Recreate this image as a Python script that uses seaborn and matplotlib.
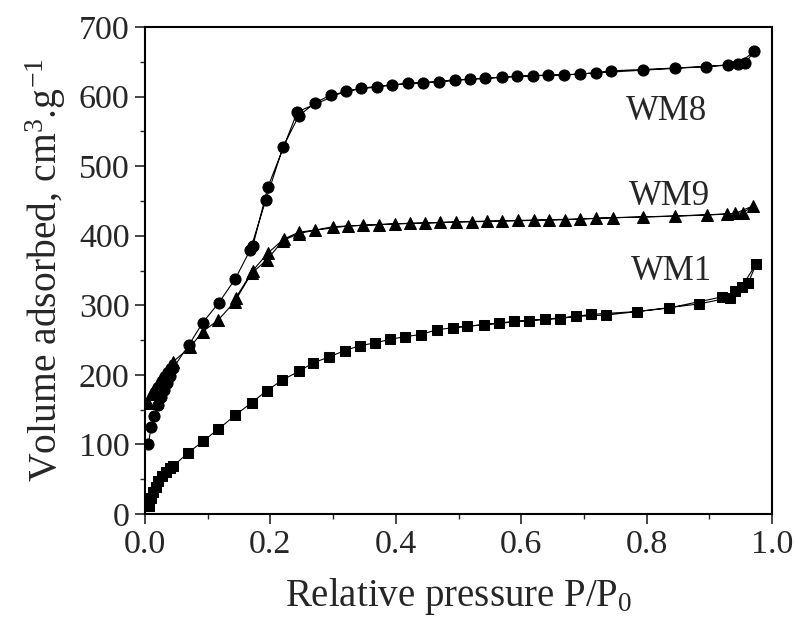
import numpy as np
import pandas as pd
import matplotlib
matplotlib.use("Agg")
import matplotlib.pyplot as plt
import seaborn as sns

# ---- data ----
wm8_ads_x = [0.005, 0.010, 0.015, 0.020, 0.025, 0.030, 0.035, 0.040, 0.045, 0.070, 0.092, 0.118, 0.144, 0.168,
             0.193, 0.220, 0.245, 0.271, 0.296, 0.344, 0.394, 0.444, 0.494, 0.543, 0.594, 0.643, 0.693, 0.744,
             0.845, 0.930, 0.957, 0.972]
wm8_ads_y = [100, 125, 141, 157, 168, 178, 188, 198, 210, 243, 275, 304, 338, 380,
             452, 527, 572, 591, 602, 612, 617, 620, 624, 626, 629, 631, 632, 637,
             641, 645, 648, 665]
wm8_des_x = [0.946, 0.895, 0.795, 0.720, 0.668, 0.619, 0.569, 0.518, 0.469, 0.420, 0.370, 0.320, 0.243,
             0.196, 0.172]
wm8_des_y = [647, 643, 638, 634, 631, 630, 628, 625, 621, 619, 614, 608, 578, 470, 385]

wm9_ads_x = [0.005, 0.010, 0.015, 0.020, 0.025, 0.030, 0.035, 0.040, 0.045, 0.072, 0.092, 0.117, 0.143, 0.170,
             0.194, 0.220, 0.245, 0.271, 0.300, 0.348, 0.398, 0.447, 0.496, 0.545, 0.595, 0.645, 0.694, 0.746,
             0.845, 0.928, 0.954, 0.970]
wm9_ads_y = [160, 172, 180, 188, 195, 201, 207, 213, 219, 240, 262, 279, 305, 346,
             365, 393, 403, 408, 413, 415, 417, 418, 420, 421, 422, 423, 424, 426,
             428, 431, 433, 443]
wm9_des_x = [0.941, 0.896, 0.795, 0.720, 0.670, 0.620, 0.570, 0.521, 0.470, 0.423, 0.374, 0.324, 0.245,
             0.221, 0.196, 0.172, 0.145]
wm9_des_y = [432, 430, 427, 425, 423, 422, 421, 420, 419, 418, 416, 414, 405, 395, 375, 350, 311]

wm1_ads_x = [0.006, 0.010, 0.013, 0.017, 0.021, 0.027, 0.033, 0.040, 0.045, 0.069, 0.093, 0.117, 0.144, 0.170,
             0.194, 0.218, 0.245, 0.268, 0.294, 0.319, 0.343, 0.367, 0.391, 0.415, 0.440, 0.466, 0.514, 0.564,
             0.613, 0.662, 0.712, 0.785, 0.884, 0.933, 0.952, 0.975]
wm1_ads_y = [11, 23, 32, 39, 47, 54, 61, 66, 69, 88, 105, 122, 142, 160,
             177, 192, 205, 217, 226, 235, 242, 246, 251, 255, 258, 265, 270, 274,
             278, 281, 287, 291, 302, 311, 327, 360]
wm1_des_x = [0.962, 0.941, 0.920, 0.835, 0.736, 0.687, 0.638, 0.589, 0.540, 0.491]
wm1_des_y = [332, 320, 312, 296, 286, 284, 280, 277, 272, 268]

samples = ["WM8", "WM9", "WM1"]
label_x = [0.831, 0.837, 0.839]
label_y = [566, 444, 336]

x_ticks = [0.0, 0.2, 0.4, 0.6, 0.8, 1.0]
x_tick_labels = ["0.0", "0.2", "0.4", "0.6", "0.8", "1.0"]
y_ticks = [0, 100, 200, 300, 400, 500, 600, 700]

# ---- style ----
sns.set_style("ticks")
plt.rcParams["font.family"] = ["Liberation Serif", "DejaVu Serif"]
plt.rcParams["mathtext.fontset"] = "custom"
plt.rcParams["mathtext.rm"] = "Liberation Serif"
plt.rcParams["mathtext.it"] = "Liberation Serif"
plt.rcParams["mathtext.default"] = "regular"

fig = plt.figure(figsize=(7.94, 6.22), dpi=100)
ax = fig.add_axes([145 / 794, 1 - 514 / 622, (772 - 145) / 794, (514 - 27) / 622])

series = {
    "WM8": (wm8_ads_x + wm8_des_x, wm8_ads_y + wm8_des_y, "o", 8.0),
    "WM9": (wm9_ads_x + wm9_des_x, wm9_ads_y + wm9_des_y, "^", 8.5),
    "WM1": (wm1_ads_x + wm1_des_x, wm1_ads_y + wm1_des_y, "s", 7.0),
}

for name in samples:
    xs, ys, mk, ms = series[name]
    df = pd.DataFrame({"P": xs, "V": ys})
    sns.lineplot(data=df, x="P", y="V", sort=False, estimator=None, ax=ax,
                 color="black", linewidth=0.8, marker=mk, markersize=ms,
                 markeredgecolor="black", markerfacecolor="black")

for name, tx, ty in zip(samples, label_x, label_y):
    ax.text(tx, ty, name, ha="center", va="baseline", fontsize=25)

ax.set_xlim(0.0, 1.0)
ax.set_ylim(0, 700)
ax.set_xticks(x_ticks)
ax.set_xticklabels(x_tick_labels)
ax.set_yticks(y_ticks)
ax.set_xticks(np.arange(0.1, 1.0, 0.2), minor=True)
ax.set_yticks(np.arange(50, 700, 100), minor=True)

ax.tick_params(axis="both", which="major", direction="out", length=7, width=1.2,
               labelsize=24.5, pad=4, top=False, right=False)
ax.tick_params(axis="both", which="minor", direction="out", length=3.5, width=1.0,
               top=False, right=False)

for sp in ax.spines.values():
    sp.set_visible(True)
    sp.set_linewidth(1.5)
    sp.set_color("black")

ax.set_xlabel(r"Relative pressure P/P$_{0}$", fontsize=28, labelpad=12)
ax.set_ylabel(r"Volume adsorbed, cm$^{3}$.g$^{-1}$", fontsize=28.5, labelpad=8)

fig.savefig("out.png", dpi=100)
